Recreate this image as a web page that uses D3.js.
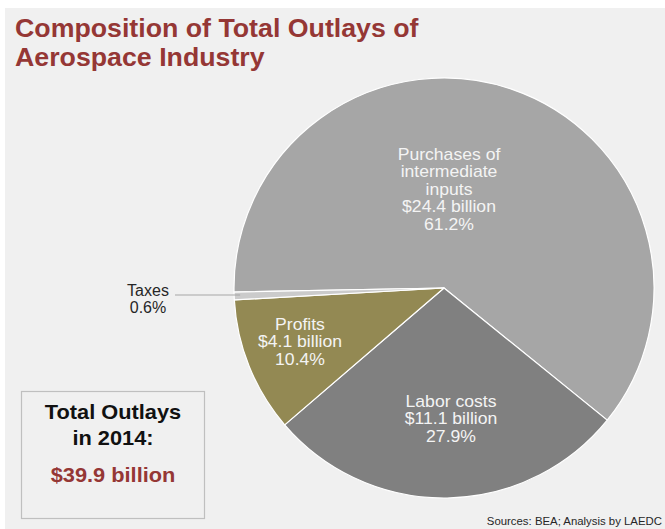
<!DOCTYPE html>
<html>
<head>
<meta charset="utf-8">
<script src="https://cdn.jsdelivr.net/npm/d3@7"></script>
<style>
  html, body { margin: 0; padding: 0; background: #ffffff; }
  svg { display: block; font-family: "Liberation Sans", Arial, sans-serif; }
</style>
</head>
<body>
<svg id="chart" width="665" height="529"></svg>
<script>
// Outlay components (share of total, %)
const categories = ["Purchases of intermediate inputs", "Labor costs", "Profits", "Taxes"];
const shares = [61.2, 27.9, 10.4, 0.6];
const amounts = ["$24.4 billion", "$11.1 billion", "$4.1 billion", null];
const sliceColors = ["#a6a6a6", "#808080", "#938953", "#cbcbcb"];
const totalLabel = "$39.9 billion";

const svg = d3.select("#chart");
const W = 665, H = 529;

// Multi-line text block, slightly widened horizontally around its anchor x
function textBlock(x, y, lines, opts) {
  const g = svg.append("g").attr("transform", `translate(${x},0) scale(${opts.sx || 1},1)`);
  const t = g.append("text")
    .attr("text-anchor", opts.anchor || "middle")
    .attr("font-size", opts.size)
    .attr("font-weight", opts.weight || "normal")
    .attr("fill", opts.fill);
  lines.forEach((s, k) => {
    const sp = t.append("tspan").attr("x", 0).attr("y", y + k * opts.lh).text(s.text || s);
    if (s.fill) sp.attr("fill", s.fill);
    if (s.dy) sp.attr("y", y + k * opts.lh + s.dy);
  });
  return t;
}

// panel background
svg.append("rect").attr("x", 5).attr("y", 8).attr("width", W - 5).attr("height", H - 8)
  .attr("fill", "#f0f0f0");

// title
textBlock(15, 37, ["Composition of Total Outlays of", "Aerospace Industry"],
  { anchor: "start", size: 25, weight: "bold", fill: "#953735", lh: 29, sx: 1.07 });

// pie
const cx = 444, cy = 288, R = 210;
const start = -91.1 * Math.PI / 180;
const pie = d3.pie().sort(null).value(d => d.share)
  .startAngle(start).endAngle(start + 2 * Math.PI);
const data = categories.map((c, i) => ({ name: c, share: shares[i], amount: amounts[i], color: sliceColors[i] }));
const arcs = pie(data);
const arc = d3.arc().innerRadius(0).outerRadius(R);

const g = svg.append("g").attr("transform", `translate(${cx},${cy})`);
g.selectAll("path").data(arcs).join("path")
  .attr("d", arc)
  .attr("fill", d => d.data.color)
  .attr("stroke", "#ffffff").attr("stroke-width", 1.2).attr("stroke-linejoin", "round");

// in-slice labels
const labelLines = [
  { idx: 0, x: 449, y: 160, lines: ["Purchases of", "intermediate", "inputs"] },
  { idx: 1, x: 451, y: 407, lines: ["Labor costs"] },
  { idx: 2, x: 300, y: 330, lines: ["Profits"] }
];
labelLines.forEach(L => {
  const d = data[L.idx];
  const all = L.lines.concat([d.amount, d.share.toFixed(1) + "%"]);
  textBlock(L.x, L.y, all, { size: 16, fill: "#f4f4f4", lh: 17.5, sx: 1.1 });
});

// taxes label with leader line
const tax = arcs[3];
const mid = (tax.startAngle + tax.endAngle) / 2;
const ex = cx + Math.sin(mid) * (R - 6);
svg.append("line").attr("x1", 175).attr("y1", 295).attr("x2", ex).attr("y2", 295)
  .attr("stroke", "#a6a6a6").attr("stroke-width", 1.2);
textBlock(148, 296, ["Taxes", data[3].share.toFixed(1) + "%"],
  { size: 16, fill: "#262626", lh: 17 });

// total box
svg.append("rect").attr("x", 21.5).attr("y", 391.5).attr("width", 183).attr("height", 127)
  .attr("fill", "#f0f0f0").attr("stroke", "#bfbfbf").attr("stroke-width", 1.2);
textBlock(113, 419, ["Total Outlays", "in 2014:", { text: totalLabel, fill: "#953735", dy: 11 }],
  { size: 20, weight: "bold", fill: "#111111", lh: 26, sx: 1.09 });

// source note
textBlock(662, 525, ["Sources: BEA; Analysis by LAEDC"],
  { anchor: "end", size: 11, fill: "#262626", lh: 12, sx: 1.035 });
</script>
</body>
</html>
